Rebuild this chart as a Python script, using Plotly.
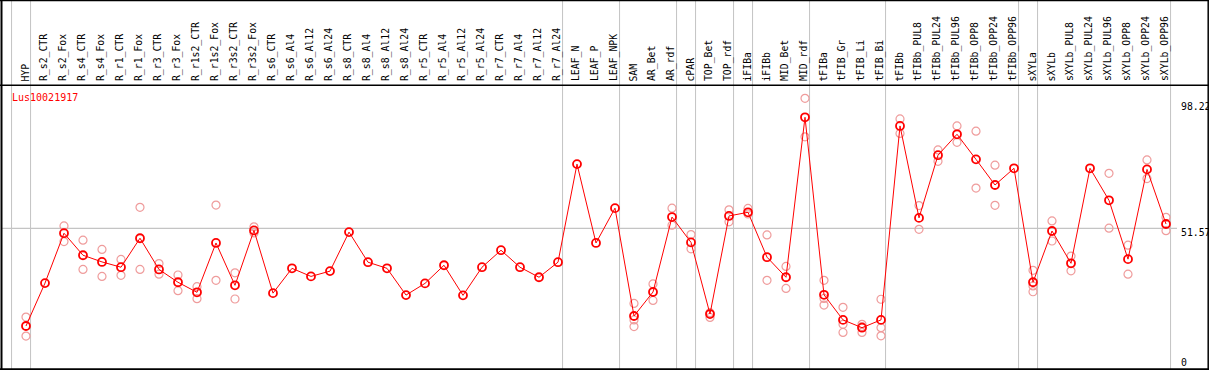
import plotly.graph_objects as go

# ---------------- data ----------------
categories = [
    "HYP", "R_s2_CTR", "R_s2_Fox", "R_s4_CTR", "R_s4_Fox", "R_r1_CTR", "R_r1_Fox",
    "R_r3_CTR", "R_r3_Fox", "R_r1s2_CTR", "R_r1s2_Fox", "R_r3s2_CTR", "R_r3s2_Fox",
    "R_s6_CTR", "R_s6_Al4", "R_s6_Al12", "R_s6_Al24", "R_s8_CTR", "R_s8_Al4",
    "R_s8_Al12", "R_s8_Al24", "R_r5_CTR", "R_r5_Al4", "R_r5_Al12", "R_r5_Al24",
    "R_r7_CTR", "R_r7_Al4", "R_r7_Al12", "R_r7_Al24", "LEAF_N", "LEAF_P", "LEAF_NPK",
    "SAM", "AR_Bet", "AR_rdf", "cPAR", "TOP_Bet", "TOP_rdf", "iFIBa", "iFIBb",
    "MID_Bet", "MID_rdf", "tFIBa", "tFIB_Gr", "tFIB_Li", "tFIB_Bi", "tFIBb",
    "tFIBb_PUL8", "tFIBb_PUL24", "tFIBb_PUL96", "tFIBb_OPP8", "tFIBb_OPP24",
    "tFIBb_OPP96", "sXYLa", "sXYLb", "sXYLb_PUL8", "sXYLb_PUL24", "sXYLb_PUL96",
    "sXYLb_OPP8", "sXYLb_OPP24", "sXYLb_OPP96",
]

means = [
    16.5, 31.9, 49.8, 41.9, 39.5, 37.6, 48.0, 36.8, 32.2, 28.6, 46.3, 31.1, 50.8,
    28.3, 37.2, 34.3, 36.2, 50.2, 39.4, 37.2, 27.6, 31.8, 38.3, 27.5, 37.6,
    43.7, 37.6, 34.0, 39.4, 74.6, 46.3, 58.8,
    20.1, 28.7, 55.6, 46.5, 20.8, 56.0, 57.3, 41.2, 34.0, 91.4,
    27.7, 18.7, 15.9, 18.7, 88.3, 55.3, 77.8, 85.3, 76.3, 67.1, 73.1,
    32.2, 50.6, 39.0, 73.1, 61.6, 40.5, 72.7, 53.1,
]

replicates = [
    [19.7, 12.9], [], [52.4, 46.8], [47.3, 36.8], [44.0, 34.3], [40.4, 34.7],
    [59.1, 36.8], [38.9, 35.1], [34.8, 29.2], [30.6, 26.3], [59.9, 32.9],
    [35.6, 26.2], [52.1, 49.9],
    [], [], [], [], [], [], [], [], [], [], [], [], [], [], [], [],
    [], [], [],
    [24.6, 18.7, 16.3], [31.6, 25.7], [58.8, 52.7], [49.3, 44.2], [21.3, 19.6],
    [58.2, 53.9], [58.7, 56.7], [49.2, 32.9], [37.9, 30.0], [98.2, 84.4],
    [32.9, 26.4, 24.0], [23.2, 17.1, 14.2], [17.1, 14.2, 16.3], [26.1, 15.9, 13.0],
    [90.8, 85.6], [59.7, 51.2], [79.7, 75.6], [88.3, 82.4], [86.4, 66.0],
    [74.2, 59.8], [],
    [36.5, 30.9, 28.8], [54.2, 47.0], [41.6, 36.3], [], [71.3, 51.6],
    [45.5, 35.1], [76.1, 69.4], [55.5, 50.7],
]

group_ends = ["HYP", "R_r7_Al24", "LEAF_NPK", "AR_rdf", "cPAR", "TOP_rdf", "iFIBa",
              "MID_rdf", "tFIB_Bi", "tFIBb_OPP96", "sXYLa", "sXYLb_OPP96"]

gene_name = "Lus10021917"
ref_value = 51.57
axis_max_label = "98.22"
axis_min_label = "0"

# ---------------- layout helpers ----------------
W, H = 1209, 370
X_RANGE = [-1.368, 62.263]
Y_RANGE = [0.72, 133.48]


def px_x(p):
    return p / W


def px_y(p):
    return 1 - p / H


idx = list(range(len(categories)))

rep_x, rep_y = [], []
for i, reps in enumerate(replicates):
    for v in reps:
        rep_x.append(i)
        rep_y.append(v)

fig = go.Figure()
fig.add_trace(go.Scatter(
    x=rep_x, y=rep_y, mode="markers",
    marker=dict(symbol="circle-open", size=8, color="#ef9c9c", line=dict(width=1.2)),
    hoverinfo="skip", showlegend=False,
))
fig.add_trace(go.Scatter(
    x=idx, y=means, mode="lines+markers",
    line=dict(color="#ff0000", width=1),
    marker=dict(symbol="circle-open", size=8, color="#ff0000", line=dict(width=1.8)),
    showlegend=False,
))

shapes = []
# vertical group separators
sep_idx = [-1] + [categories.index(n) for n in group_ends]
for s in sep_idx:
    shapes.append(dict(type="line", xref="x", yref="paper", x0=s + 0.24, x1=s + 0.24,
                       y0=0, y1=1, line=dict(color="#c4c4c4", width=1), layer="below"))
# horizontal reference line
shapes.append(dict(type="line", xref="paper", yref="y", x0=px_x(2), x1=px_x(1177),
                   y0=ref_value, y1=ref_value, line=dict(color="#c4c4c4", width=1.2),
                   layer="below"))
# frame lines
blk = dict(color="#000000", width=1.5)
shapes += [
    dict(type="line", xref="paper", yref="paper", x0=0, x1=1, y0=px_y(0.6), y1=px_y(0.6), line=blk),
    dict(type="line", xref="paper", yref="paper", x0=0, x1=1, y0=px_y(85.3), y1=px_y(85.3), line=blk),
    dict(type="line", xref="paper", yref="paper", x0=0, x1=1, y0=px_y(369.2), y1=px_y(369.2), line=dict(color="#000000", width=2)),
    dict(type="line", xref="paper", yref="paper", x0=px_x(1.5), x1=px_x(1.5), y0=0, y1=1, line=dict(color="#000000", width=2)),
    dict(type="line", xref="paper", yref="paper", x0=px_x(1208.2), x1=px_x(1208.2), y0=0, y1=1, line=blk),
]

font = dict(family="DejaVu Sans Mono", size=9.8, color="#000000")
annotations = []
for i, c in enumerate(categories):
    annotations.append(dict(x=i - 0.05, y=px_y(83.5), xref="x", yref="paper", text=c,
                            textangle=-90, showarrow=False, xanchor="center",
                            yanchor="bottom", font=font))
annotations.append(dict(x=px_x(9.5), y=px_y(97.3), xref="paper", yref="paper",
                        text=gene_name, showarrow=False, xanchor="left", yanchor="middle",
                        font=dict(family="DejaVu Sans Mono", size=10, color="#ff0000")))
for lab, ypx in [(axis_max_label, 107), (f"{ref_value:.2f}", 232.3), (axis_min_label, 362.3)]:
    annotations.append(dict(x=px_x(1178.5), y=px_y(ypx), xref="paper", yref="paper",
                            text=lab, showarrow=False, xanchor="left", yanchor="middle",
                            font=font))

fig.update_layout(
    width=W, height=H, autosize=False,
    margin=dict(l=0, r=0, t=0, b=0, pad=0),
    paper_bgcolor="#ffffff", plot_bgcolor="#ffffff",
    xaxis=dict(range=X_RANGE, visible=False, fixedrange=True),
    yaxis=dict(range=Y_RANGE, visible=False, fixedrange=True),
    shapes=shapes, annotations=annotations, showlegend=False,
)

fig.write_html(
    "out.html",
    config={"displayModeBar": False},
    post_script="document.body.style.margin='0';document.body.style.overflow='hidden';",
)
